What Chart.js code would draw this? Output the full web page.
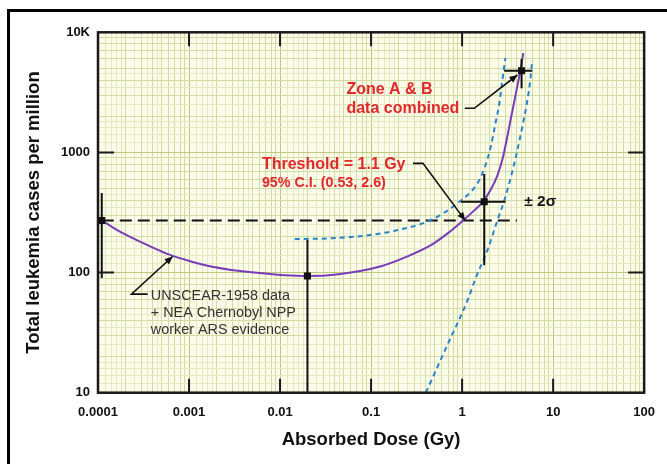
<!DOCTYPE html>
<html><head><meta charset="utf-8">
<script src="https://cdn.jsdelivr.net/npm/chart.js@4"></script>
<style>html,body{margin:0;padding:0;background:#fff;} #wrap{width:667px;height:464px;position:relative;}</style>
</head><body><div id="wrap"><canvas id="c" width="667" height="464"></canvas></div>
<script>
// ---- tick / grid definitions
const xDecades = [0.0001, 0.001, 0.01, 0.1, 1, 10, 100];
const xTickLabels = ['0.0001', '0.001', '0.01', '0.1', '1', '10', '100'];
const yDecades = [10, 100, 1000, 10000];
const yTickLabels = ['10', '100', '1000', '10K'];
const gridSteps = [1, 1.2, 1.4, 1.6, 1.8, 2, 2.5, 3, 3.5, 4, 4.5, 5, 6, 7, 8, 9];

// ---- data points with error bars
const pointDose  = [0.00011, 0.020, 1.75, 4.5];
const pointCases = [271, 93.5, 389, 4790];
const doseLow    = [null, null, 0.97, 2.9];
const doseHigh   = [null, null, 3.0, 5.9];
const casesLow   = [90, 10, 115, 3430];
const casesHigh  = [459, 187, 661, 6000];

// ---- fitted curve (purple)
const fitDose  = [0.000111, 0.000174, 0.00026, 0.00037, 0.00061, 0.00101, 0.0018, 0.0052, 0.0201, 0.044, 0.129, 0.255, 0.454, 0.70, 1.04, 1.37, 1.72, 2.11, 2.45, 2.78, 3.07, 3.39, 3.75, 4.15, 4.47, 4.70];
const fitCases = [271, 219, 188, 166, 141, 125, 112, 100, 93.5, 97, 113, 137, 169, 213, 274, 331, 394, 505, 648, 881, 1245, 1826, 2679, 3931, 5342, 6725];

// ---- confidence band (blue dashed)
const upperDose  = [0.0145, 0.0368, 0.0865, 0.198, 0.454, 0.895, 1.48, 1.76, 2.05, 2.33, 2.57, 2.77, 2.99];
const upperCases = [190, 193, 203, 226, 274, 379, 556, 741, 1088, 1757, 2578, 4008, 6110];
const lowerDose  = [0.40, 0.679, 1.15, 1.41, 1.90, 2.45, 2.92, 3.48, 4.05, 4.70, 5.20, 5.61, 5.90];
const lowerCases = [10, 24.4, 59, 90, 154, 274, 402, 648, 1047, 1790, 2680, 4008, 5878];

// ---- baseline (black dashed)
const baselineDose  = [0.00011, 4.0];
const baselineCases = [271, 271];

const RED = '#e2282a';
const FONT = "'Liberation Sans', Arial, sans-serif";

const notes = [
  {lines: ['Zone A & B', 'data combined'], x: 0.0536, y: 3309, color: RED, font: 'bold 16px ' + FONT, lh: 18.5},
  {lines: ['Threshold = 1.1 Gy'], x: 0.00632, y: 785, color: RED, font: 'bold 16px ' + FONT, lh: 18},
  {lines: ['95% C.I. (0.53, 2.6)'], x: 0.00632, y: 551, color: RED, font: 'bold 14.3px ' + FONT, lh: 16},
  {lines: ['\u00B1 2\u03C3'], x: 4.82, y: 389, color: '#111', font: 'bold 15.5px ' + FONT, lh: 16},
  {lines: ['UNSCEAR-1958 data', '+ NEA Chernobyl NPP', 'worker ARS evidence'], x: 0.00038, y: 63.7, color: '#333', font: '14.4px ' + FONT, lh: 17}
];
const connectors = [
  [[1.07, 2329], [1.36, 2329], [4.05, 4411]],
  [[0.289, 811], [0.372, 811], [1.08, 272]],
  [[0.000351, 66.2], [0.000233, 66.2], [0.00066, 136]]
];

function isDecade(v, list) { return list.findIndex(d => Math.abs(d - v) / d < 1e-6); }
function buildTicks(min, max) {
  const out = [];
  for (let e = Math.round(Math.log10(min)); e < Math.round(Math.log10(max)); e++) {
    for (const s of gridSteps) out.push({value: s * Math.pow(10, e)});
  }
  out.push({value: max});
  return out;
}
function gridColor(c) {
  const v = c.tick ? c.tick.value : 1;
  const e = Math.floor(Math.log10(v) + 1e-9);
  const m = v / Math.pow(10, e);
  if (Math.abs(m - 1) < 1e-6) return '#bcc97e';
  if (Math.abs(m - Math.round(m)) < 1e-6) return '#d2dba2';
  return '#e4e9c2';
}

const paper = {
  id: 'paper',
  beforeDraw(chart) {
    const {ctx, chartArea: a} = chart;
    ctx.save();
    ctx.fillStyle = '#fff';
    ctx.fillRect(0, 0, chart.width, chart.height);
    ctx.fillStyle = '#fbfbea';
    ctx.fillRect(a.left, a.top, a.right - a.left, a.bottom - a.top);
    ctx.strokeStyle = '#000';
    ctx.lineWidth = 3;
    ctx.beginPath();
    ctx.moveTo(8.5, chart.height);
    ctx.lineTo(8.5, 10.5);
    ctx.lineTo(chart.width, 10.5);
    ctx.stroke();
    ctx.restore();
  },
  afterDatasetsDraw(chart) {
    const {ctx} = chart;
    const X = chart.scales.x, Y = chart.scales.y;
    ctx.save();
    // error bars
    ctx.strokeStyle = '#111';
    ctx.lineWidth = 2;
    for (let i = 0; i < pointDose.length; i++) {
      const px = X.getPixelForValue(pointDose[i]);
      const py = Y.getPixelForValue(pointCases[i]);
      ctx.beginPath();
      ctx.moveTo(px, Y.getPixelForValue(casesLow[i]));
      ctx.lineTo(px, Y.getPixelForValue(casesHigh[i]));
      if (doseLow[i] !== null) {
        ctx.moveTo(X.getPixelForValue(doseLow[i]), py);
        ctx.lineTo(X.getPixelForValue(doseHigh[i]), py);
      }
      ctx.stroke();
    }
    // connectors with arrowheads
    ctx.strokeStyle = '#111';
    ctx.fillStyle = '#111';
    ctx.lineWidth = 1.6;
    for (const c of connectors) {
      const pts = c.map(p => [X.getPixelForValue(p[0]), Y.getPixelForValue(p[1])]);
      ctx.beginPath();
      ctx.moveTo(pts[0][0], pts[0][1]);
      for (let k = 1; k < pts.length; k++) ctx.lineTo(pts[k][0], pts[k][1]);
      ctx.stroke();
      const [x1, y1] = pts[pts.length - 2], [x2, y2] = pts[pts.length - 1];
      const ang = Math.atan2(y2 - y1, x2 - x1);
      const L = 8, W = 3.5;
      ctx.beginPath();
      ctx.moveTo(x2, y2);
      ctx.lineTo(x2 - L * Math.cos(ang) + W * Math.sin(ang), y2 - L * Math.sin(ang) - W * Math.cos(ang));
      ctx.lineTo(x2 - L * Math.cos(ang) - W * Math.sin(ang), y2 - L * Math.sin(ang) + W * Math.cos(ang));
      ctx.closePath();
      ctx.fill();
    }
    // texts
    ctx.textBaseline = 'middle';
    ctx.textAlign = 'left';
    for (const n of notes) {
      ctx.font = n.font;
      ctx.fillStyle = n.color;
      const x0 = X.getPixelForValue(n.x), y0 = Y.getPixelForValue(n.y);
      n.lines.forEach((t, k) => ctx.fillText(t, x0, y0 + k * n.lh));
    }
    ctx.restore();
  },
  afterDraw(chart) {
    const {ctx, chartArea: a} = chart;
    const X = chart.scales.x, Y = chart.scales.y;
    ctx.save();
    ctx.strokeStyle = '#1a1a1a';
    ctx.lineWidth = 2.5;
    ctx.strokeRect(a.left, a.top, a.right - a.left, a.bottom - a.top);
    ctx.lineWidth = 2;
    const T = 14;
    ctx.beginPath();
    xDecades.slice(1, -1).forEach(v => {
      const p = X.getPixelForValue(v);
      ctx.moveTo(p, a.bottom); ctx.lineTo(p, a.bottom - T);
      ctx.moveTo(p, a.top); ctx.lineTo(p, a.top + T);
    });
    yDecades.slice(1, -1).forEach(v => {
      const p = Y.getPixelForValue(v);
      ctx.moveTo(a.left, p); ctx.lineTo(a.left + T + 2, p);
      ctx.moveTo(a.right, p); ctx.lineTo(a.right - T - 2, p);
    });
    ctx.stroke();
    ctx.restore();
  }
};

const toXY = (xs, ys) => xs.map((v, i) => ({x: v, y: ys[i]}));

new Chart(document.getElementById('c'), {
  type: 'scatter',
  data: {
    datasets: [
      {data: toXY(pointDose, pointCases), pointStyle: 'rect', pointRadius: 5, pointBackgroundColor: '#111', pointBorderColor: '#111', borderWidth: 0, showLine: false},
      {data: toXY(fitDose, fitCases), showLine: true, borderColor: '#7a3db8', borderWidth: 2, pointRadius: 0, cubicInterpolationMode: 'monotone'},
      {data: toXY(upperDose, upperCases), showLine: true, borderColor: '#2a84c8', borderWidth: 2, borderDash: [5, 4], pointRadius: 0, cubicInterpolationMode: 'monotone'},
      {data: toXY(lowerDose, lowerCases), showLine: true, borderColor: '#2a84c8', borderWidth: 2, borderDash: [5, 4], pointRadius: 0, cubicInterpolationMode: 'monotone'},
      {data: toXY(baselineDose, baselineCases), showLine: true, borderColor: '#111', borderWidth: 2, borderDash: [12, 6], pointRadius: 0}
    ]
  },
  options: {
    responsive: false,
    animation: false,
    devicePixelRatio: 1,
    layout: {padding: {left: 0, top: 32.3, right: 19.3, bottom: 0}},
    plugins: {legend: {display: false}, tooltip: {enabled: false}},
    scales: {
      x: {
        type: 'logarithmic', min: 0.0001, max: 100,
        afterBuildTicks: s => { s.ticks = buildTicks(0.0001, 100); },
        afterFit: s => { s.height = 71.3; },
        grid: {color: gridColor, lineWidth: 1, drawTicks: false},
        border: {display: false},
        ticks: {
          autoSkip: false, maxRotation: 0, minRotation: 0, padding: 12, color: '#111',
          font: {family: FONT, size: 13, weight: 'bold'},
          callback: v => { const i = isDecade(v, xDecades); return i >= 0 ? xTickLabels[i] : ''; }
        },
        title: {display: true, text: 'Absorbed Dose (Gy)', color: '#111', font: {family: FONT, size: 18.5, weight: 'bold'}, padding: {top: 0, bottom: 13}}
      },
      y: {
        type: 'logarithmic', min: 10, max: 10000,
        afterBuildTicks: s => { s.ticks = buildTicks(10, 10000); },
        afterFit: s => { s.width = 98; },
        grid: {color: gridColor, lineWidth: 1, drawTicks: false},
        border: {display: false},
        ticks: {
          autoSkip: false, padding: 8, color: '#111',
          font: {family: FONT, size: 13, weight: 'bold'},
          callback: v => { const i = isDecade(v, yDecades); return i >= 0 ? yTickLabels[i] : ''; }
        },
        title: {display: true, text: 'Total leukemia cases per million', color: '#111', font: {family: FONT, size: 18.5, weight: 'bold'}, padding: {top: 23, bottom: 0}}
      }
    }
  },
  plugins: [paper]
});
</script></body></html>
